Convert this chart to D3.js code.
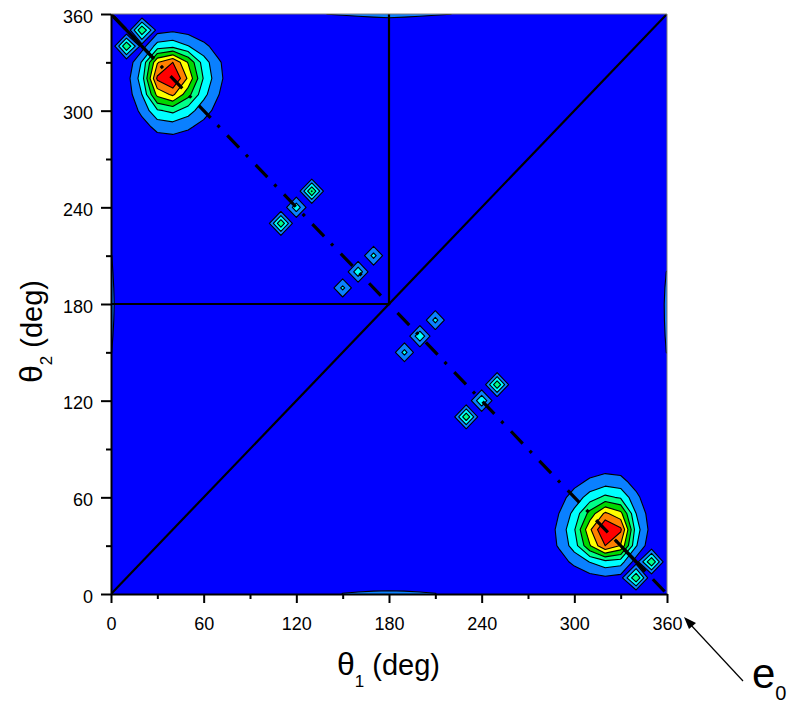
<!DOCTYPE html>
<html>
<head>
<meta charset="utf-8">
<script src="https://cdn.jsdelivr.net/npm/d3@7"></script>
<style>
  body { margin: 0; background: #fff; }
  svg { display: block; font-family: "Liberation Sans", Arial, sans-serif; }
</style>
</head>
<body>
<svg id="chart" width="789" height="708"></svg>
<script>
// grid spacing of the map (deg)
const gridStep = 10;
const gridMax = 360;

// contour levels and fills
const levels = [1, 2, 3, 4, 5, 6, 7];
const levelColors = ["#0a80ff", "#00ffff", "#00ff88", "#00d800", "#ffff00", "#ff8000", "#ff0000"];
const backgroundColor = "#0000ff";

// peak near (40,320): rows from theta2=350 down, cols theta1=0..80
const peakUpperX = 0, peakUpperY = 350;
const peakUpper = [
  [0,    0,    0,    0.6,  0.8,  0.6,  0.32, 0.12, 0],
  [0,    0,    0.5,  2.45, 2.7,  2.05, 1.25, 0.55, 0.15],
  [0,    0.2,  2.1,  5.9,  7.0,  4.9,  2.5,  1.1,  0.35],
  [0.05, 0.55, 2.5,  7.2,  8.2,  5.8,  2.9,  1.2,  0.38],
  [0,    0.4,  2.0,  5.3,  6.2,  4.35, 2.3,  1.0,  0.33],
  [0,    0.22, 1.25, 2.85, 3.25, 2.45, 1.4,  0.62, 0.18],
  [0,    0.05, 0.58, 1.3,  1.45, 1.15, 0.68, 0.2,  0.05],
  [0,    0,    0.15, 0.45, 0.5,  0.38, 0.2,  0.05, 0]
];

// peak near (320,40): rows from theta2=80 down, cols theta1=280..360
const peakLowerX = 280, peakLowerY = 80;
const peakLower = [
  [0,    0.05, 0.2,  0.38, 0.5,  0.45, 0.15, 0,    0],
  [0.05, 0.2,  0.68, 1.15, 1.45, 1.3,  0.58, 0.05, 0],
  [0.18, 0.62, 1.4,  2.45, 3.25, 2.85, 1.25, 0.22, 0],
  [0.33, 1.0,  2.3,  4.35, 6.2,  5.3,  2.0,  0.4,  0],
  [0.38, 1.2,  2.9,  5.8,  8.2,  7.2,  2.5,  0.55, 0.05],
  [0.35, 1.1,  2.5,  4.9,  7.0,  5.9,  2.1,  0.2,  0],
  [0.15, 0.55, 1.25, 2.05, 2.7,  2.45, 0.5,  0,    0],
  [0,    0.12, 0.32, 0.6,  0.8,  0.6,  0,    0,    0]
];

// isolated points [theta1, theta2, value]
const spikes = [
  [10, 340, 4.0], [20, 350, 4.0],
  [110, 230, 3.9], [120, 240, 2.7], [130, 250, 4.1],
  [150, 190, 2.3], [160, 200, 2.8], [170, 210, 2.4],
  [190, 150, 2.4], [200, 160, 2.9], [210, 170, 2.4],
  [230, 110, 3.9], [240, 120, 3.0], [250, 130, 3.9],
  [340, 10, 4.0], [350, 20, 4.0]
];

// weak values on the border of the map [theta1, theta2, value]
const edgePoints = [
  [140, 360, 1.02], [150, 360, 1.08], [160, 360, 1.16], [170, 360, 1.24], [180, 360, 1.3], [190, 360, 1.24], [200, 360, 1.16], [210, 360, 1.08], [220, 360, 1.02],
  [150, 0, 1.05], [160, 0, 1.14], [170, 0, 1.22], [180, 0, 1.26], [190, 0, 1.22], [200, 0, 1.14], [210, 0, 1.05],
  [0, 150, 1.05], [0, 160, 1.14], [0, 170, 1.22], [0, 180, 1.26], [0, 190, 1.22], [0, 200, 1.14], [0, 210, 1.06],
  [360, 150, 1.05], [360, 160, 1.14], [360, 170, 1.2], [360, 180, 1.22], [360, 190, 1.16], [360, 200, 1.05]
];

// reference lines
const solidLines = [
  [[0, 0], [360, 360]],
  [[180, 180], [180, 360]],
  [[0, 180], [180, 180]]
];
const dashDotLine = [[0, 360], [360, 0]];
// unbroken stretches of the dash-dot line near the corners
const dashDotSolidParts = [
  [[0, 360], [27.8, 332.2]],
  [[327.2, 32.8], [345.6, 14.4]]
];

const majorTicks = [0, 60, 120, 180, 240, 300, 360];
const minorTicks = [30, 90, 150, 210, 270, 330];

// layout
const svg = d3.select("#chart");
const plot = { left: 111, top: 14, right: 667, bottom: 594 };

const x = d3.scaleLinear().domain([0, 360]).range([plot.left, plot.right]);
const y = d3.scaleLinear().domain([0, 360]).range([plot.bottom, plot.top]);

// build the grid
const n = gridMax / gridStep + 1;
const values = new Array(n * n).fill(0);
function setValue(t1, t2, v) {
  const i = Math.round(t1 / gridStep);
  const j = Math.round((gridMax - t2) / gridStep);
  values[j * n + i] = v;
}
peakUpper.forEach((row, r) => row.forEach((v, c) => setValue(peakUpperX + c * gridStep, peakUpperY - r * gridStep, v)));
peakLower.forEach((row, r) => row.forEach((v, c) => setValue(peakLowerX + c * gridStep, peakLowerY - r * gridStep, v)));
spikes.forEach((d) => setValue(d[0], d[1], d[2]));
edgePoints.forEach((d) => setValue(d[0], d[1], d[2]));

const contours = d3.contours().size([n, n]).thresholds(levels)(values);

const gridToPixel = d3.geoTransform({
  point: function (gx, gy) {
    this.stream.point(x((gx - 0.5) * gridStep), y(gridMax - (gy - 0.5) * gridStep));
  }
});
const contourPath = d3.geoPath(gridToPixel);

svg.append("defs")
  .append("clipPath")
  .attr("id", "plot-clip")
  .append("rect")
  .attr("x", plot.left)
  .attr("y", plot.top)
  .attr("width", plot.right - plot.left)
  .attr("height", plot.bottom - plot.top);

const area = svg.append("g").attr("clip-path", "url(#plot-clip)");

area.append("rect")
  .attr("x", plot.left)
  .attr("y", plot.top)
  .attr("width", plot.right - plot.left)
  .attr("height", plot.bottom - plot.top)
  .attr("fill", backgroundColor);

area.append("g")
  .selectAll("path")
  .data(contours)
  .enter()
  .append("path")
  .attr("d", contourPath)
  .attr("fill", (d, i) => levelColors[i])
  .attr("stroke", "#000")
  .attr("stroke-width", 1.1)
  .attr("stroke-linejoin", "round");

const line = d3.line().x((d) => x(d[0])).y((d) => y(d[1]));

area.append("g")
  .selectAll("path")
  .data(solidLines)
  .enter()
  .append("path")
  .attr("d", line)
  .attr("fill", "none")
  .attr("stroke", "#000")
  .attr("stroke-width", 2.2);

area.append("path")
  .attr("d", line(dashDotLine))
  .attr("fill", "none")
  .attr("stroke", "#000")
  .attr("stroke-width", 3.2)
  .attr("stroke-dasharray", "17,10,3,11")
  .attr("stroke-dashoffset", 37);

area.append("g")
  .selectAll("path")
  .data(dashDotSolidParts)
  .enter()
  .append("path")
  .attr("d", line)
  .attr("fill", "none")
  .attr("stroke", "#000")
  .attr("stroke-width", 3.2);

// frame: top and right
svg.append("path")
  .attr("d", `M${plot.left},${plot.top}H${plot.right}V${plot.bottom}`)
  .attr("fill", "none")
  .attr("stroke", "#7f7f7f")
  .attr("stroke-width", 1);

// axes
const xMinor = svg.append("g")
  .attr("transform", `translate(0,${plot.bottom})`)
  .call(d3.axisBottom(x).tickValues(minorTicks).tickSize(5).tickFormat(""));
const xMajor = svg.append("g")
  .attr("transform", `translate(0,${plot.bottom})`)
  .call(d3.axisBottom(x).tickValues(majorTicks).tickSize(9).tickSizeOuter(0).tickPadding(14));
const yMinor = svg.append("g")
  .attr("transform", `translate(${plot.left},0)`)
  .call(d3.axisLeft(y).tickValues(minorTicks).tickSize(5).tickFormat(""));
const yMajor = svg.append("g")
  .attr("transform", `translate(${plot.left},0)`)
  .call(d3.axisLeft(y).tickValues(majorTicks).tickSize(10).tickSizeOuter(0).tickPadding(8));

[xMinor, yMinor].forEach((g) => g.select(".domain").remove());
[xMinor, xMajor, yMinor, yMajor].forEach((g) => {
  g.selectAll(".tick line").attr("stroke", "#000").attr("stroke-width", 2);
  g.select(".domain").attr("stroke", "#000").attr("stroke-width", 2);
  g.selectAll("text")
    .attr("fill", "#000")
    .style("font-size", "18px")
    .style("font-family", "'Liberation Sans', Arial, sans-serif");
});
yMajor.selectAll("text").attr("dy", "0.45em");

// axis titles
const xTitle = svg.append("text")
  .attr("x", 337)
  .attr("y", 675)
  .attr("fill", "#000");
xTitle.append("tspan").style("font-size", "32px").text("θ");
xTitle.append("tspan").style("font-size", "17px").attr("dy", 12).text("1");
xTitle.append("tspan").style("font-size", "29px").attr("dy", -12).text(" (deg)");

const yTitle = svg.append("text")
  .attr("transform", "translate(42,383) rotate(-90)")
  .attr("fill", "#000");
yTitle.append("tspan").style("font-size", "32px").text("θ");
yTitle.append("tspan").style("font-size", "17px").attr("dy", 10).text("2");
yTitle.append("tspan").style("font-size", "29px").attr("dy", -10).text(" (deg)");

// e0 annotation
svg.append("line")
  .attr("x1", 743).attr("y1", 681)
  .attr("x2", 690).attr("y2", 624)
  .attr("stroke", "#000")
  .attr("stroke-width", 1.2);
svg.append("path")
  .attr("d", "M684,617 L696,623 L689,629 Z")
  .attr("fill", "#000");

const eLabel = svg.append("text")
  .attr("x", 752)
  .attr("y", 688)
  .attr("fill", "#000");
eLabel.append("tspan").style("font-size", "42px").text("e");
eLabel.append("tspan").style("font-size", "20px").attr("dy", 12).text("0");
</script>
</body>
</html>
